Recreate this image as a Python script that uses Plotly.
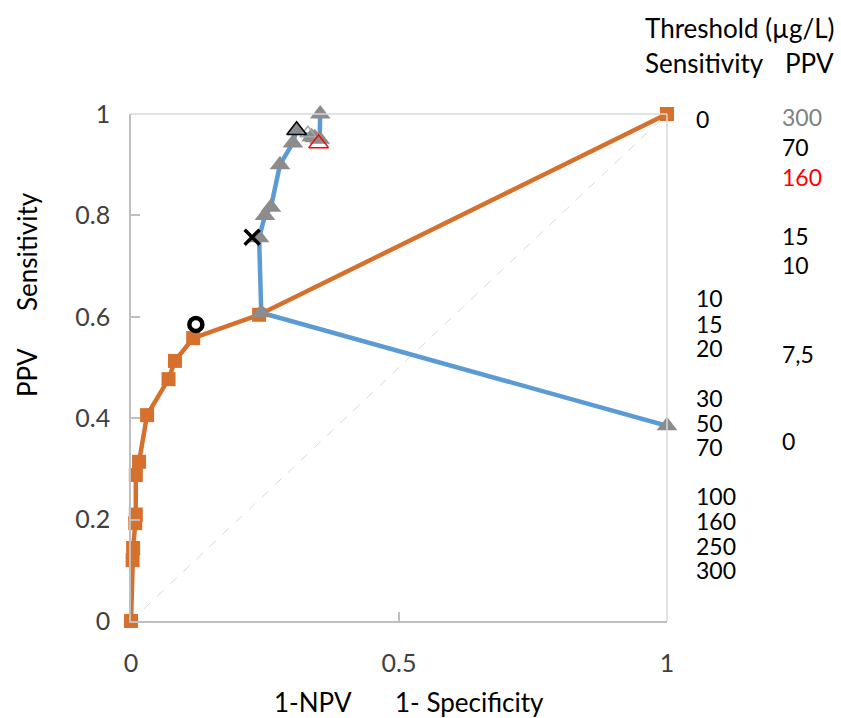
import plotly.graph_objects as go

# Orange series: Sensitivity vs 1-Specificity
spec_x = [0, 0.003, 0.004, 0.008, 0.009, 0.009, 0.015, 0.03, 0.07, 0.082, 0.116, 0.239, 1.0]
sens_y = [0, 0.12, 0.144, 0.193, 0.21, 0.288, 0.314, 0.406, 0.477, 0.513, 0.558, 0.604, 1.0]

# Blue series: PPV vs 1-NPV
npv_x = [1.0, 0.243, 0.239, 0.25, 0.261, 0.278, 0.302, 0.309, 0.337, 0.343, 0.352, 0.353]
ppv_y = [0.385, 0.608, 0.756, 0.80, 0.816, 0.90, 0.943, 0.968, 0.955, 0.953, 0.95, 1.0]

# Highlight markers
hl_gray_tri = (0.33, 0.962)
hl_black_tri = (0.309, 0.968)
hl_red_tri = (0.35, 0.942)
hl_cross = (0.226, 0.757)
hl_circle = (0.121, 0.585)

# Threshold labels
sens_labels = ["0", "10", "15", "20", "30", "50", "70", "100", "160", "250", "300"]
sens_label_y = [0.990, 0.637, 0.586, 0.538, 0.440, 0.391, 0.343, 0.247, 0.197, 0.148, 0.101]
ppv_labels = ["300", "70", "160", "15", "10", "7,5", "0"]
ppv_label_y = [0.994, 0.935, 0.876, 0.759, 0.702, 0.526, 0.355]
ppv_label_colors = ["#808080", "black", "red", "black", "black", "black", "black"]

x_ticks = [0, 0.5, 1]
x_ticklabels = ["0", "0.5", "1"]
y_ticks = [0, 0.2, 0.4, 0.6, 0.8, 1]
y_ticklabels = ["0", "0.2", "0.4", "0.6", "0.8", "1"]

FONT = "Lato"
TXT = 26
NUM = 23
ORANGE = "#D5712D"
BLUE = "#5B9BD5"
GRAY = "#8C8C8C"

L, R, T, B = 131, 174, 114, 97
W, H = 841, 718
pw, ph = W - L - R, H - T - B


def px_to_paper(px, py):
    return (px - L) / pw, (H - py - B) / ph


fig = go.Figure()

fig.add_trace(go.Scatter(x=[0, 1], y=[0, 1], mode="lines",
                         line=dict(color="#d9d9d9", width=1, dash="dash"),
                         hoverinfo="skip", showlegend=False))

fig.add_trace(go.Scatter(x=spec_x, y=sens_y, mode="lines+markers",
                         line=dict(color=ORANGE, width=4.5),
                         marker=dict(symbol="square", size=14, color=ORANGE),
                         cliponaxis=False, showlegend=False))

fig.add_trace(go.Scatter(x=npv_x, y=ppv_y, mode="lines+markers",
                         line=dict(color=BLUE, width=4.5),
                         marker=dict(symbol="triangle-up", size=18, color=GRAY),
                         cliponaxis=False, showlegend=False))

fig.add_trace(go.Scatter(x=[hl_gray_tri[0]], y=[hl_gray_tri[1]], mode="markers",
                         marker=dict(symbol="triangle-up-open", size=14, color="#a6a6a6",
                                     line=dict(width=1.5)),
                         cliponaxis=False, showlegend=False))
fig.add_trace(go.Scatter(x=[hl_black_tri[0]], y=[hl_black_tri[1]], mode="markers",
                         marker=dict(symbol="triangle-up-open", size=17, color="black",
                                     line=dict(width=1.5)),
                         cliponaxis=False, showlegend=False))
fig.add_trace(go.Scatter(x=[hl_red_tri[0]], y=[hl_red_tri[1]], mode="markers",
                         marker=dict(symbol="triangle-up-open", size=17, color="red",
                                     line=dict(width=1.5)),
                         cliponaxis=False, showlegend=False))
fig.add_trace(go.Scatter(x=[hl_cross[0]], y=[hl_cross[1]], mode="markers",
                         marker=dict(symbol="x-thin-open", size=15, color="black",
                                     line=dict(width=3.5)),
                         cliponaxis=False, showlegend=False))
fig.add_trace(go.Scatter(x=[hl_circle[0]], y=[hl_circle[1]], mode="markers",
                         marker=dict(symbol="circle-open", size=13, color="black",
                                     line=dict(width=4.5)),
                         cliponaxis=False, showlegend=False))

annotations = []
for t, yv in zip(sens_labels, sens_label_y):
    annotations.append(dict(x=px_to_paper(694, 0)[0], y=yv, xref="paper", yref="paper",
                            text=t, showarrow=False, xanchor="left", yanchor="middle",
                            font=dict(family=FONT, size=NUM, color="black")))
for t, yv, c in zip(ppv_labels, ppv_label_y, ppv_label_colors):
    annotations.append(dict(x=px_to_paper(780, 0)[0], y=yv, xref="paper", yref="paper",
                            text=t, showarrow=False, xanchor="left", yanchor="middle",
                            font=dict(family=FONT, size=NUM, color=c)))

headers = [("Threshold (µg/L)", 643, 28), ("Sensitivity", 643, 63), ("PPV", 783, 63)]
for t, px, py in headers:
    xp, yp = px_to_paper(px, py)
    annotations.append(dict(x=xp, y=yp, xref="paper", yref="paper", text=t, showarrow=False,
                            xanchor="left", yanchor="middle",
                            font=dict(family=FONT, size=TXT, color="black")))

titles = [("1-NPV", 313, 702, 0), ("1- Specificity", 469, 702, 0),
          ("Sensitivity", 27, 252, -90), ("PPV", 27, 373, -90)]
for t, px, py, ang in titles:
    xp, yp = px_to_paper(px, py)
    annotations.append(dict(x=xp, y=yp, xref="paper", yref="paper", text=t, showarrow=False,
                            xanchor="center", yanchor="middle", textangle=ang,
                            font=dict(family=FONT, size=TXT, color="black")))

fig.update_layout(
    width=W, height=H,
    margin=dict(l=L, r=R, t=T, b=B),
    paper_bgcolor="white", plot_bgcolor="white",
    annotations=annotations,
    shapes=[
        dict(type="line", xref="paper", yref="paper", x0=0, x1=1, y0=1, y1=1,
             line=dict(color="#d9d9d9", width=1.5)),
        dict(type="line", xref="paper", yref="paper", x0=1, x1=1, y0=0, y1=1,
             line=dict(color="#d9d9d9", width=1.5)),
    ],
    xaxis=dict(range=[0, 1], tickvals=x_ticks, ticktext=x_ticklabels,
               showgrid=False, zeroline=False, showline=True, linecolor="#bfbfbf", linewidth=1.5,
               ticks="inside", ticklen=9, tickcolor="#bfbfbf", tickwidth=1.5,
               ticklabelstandoff=19,
               tickfont=dict(family=FONT, size=25, color="#404040")),
    yaxis=dict(range=[0, 1], tickvals=y_ticks, ticktext=y_ticklabels,
               showgrid=False, zeroline=False, showline=True, linecolor="#bfbfbf", linewidth=1.5,
               ticks="inside", ticklen=9, tickcolor="#bfbfbf", tickwidth=1.5,
               ticklabelstandoff=14,
               tickfont=dict(family=FONT, size=25, color="#404040")),
)

fig.write_html("out.html")
